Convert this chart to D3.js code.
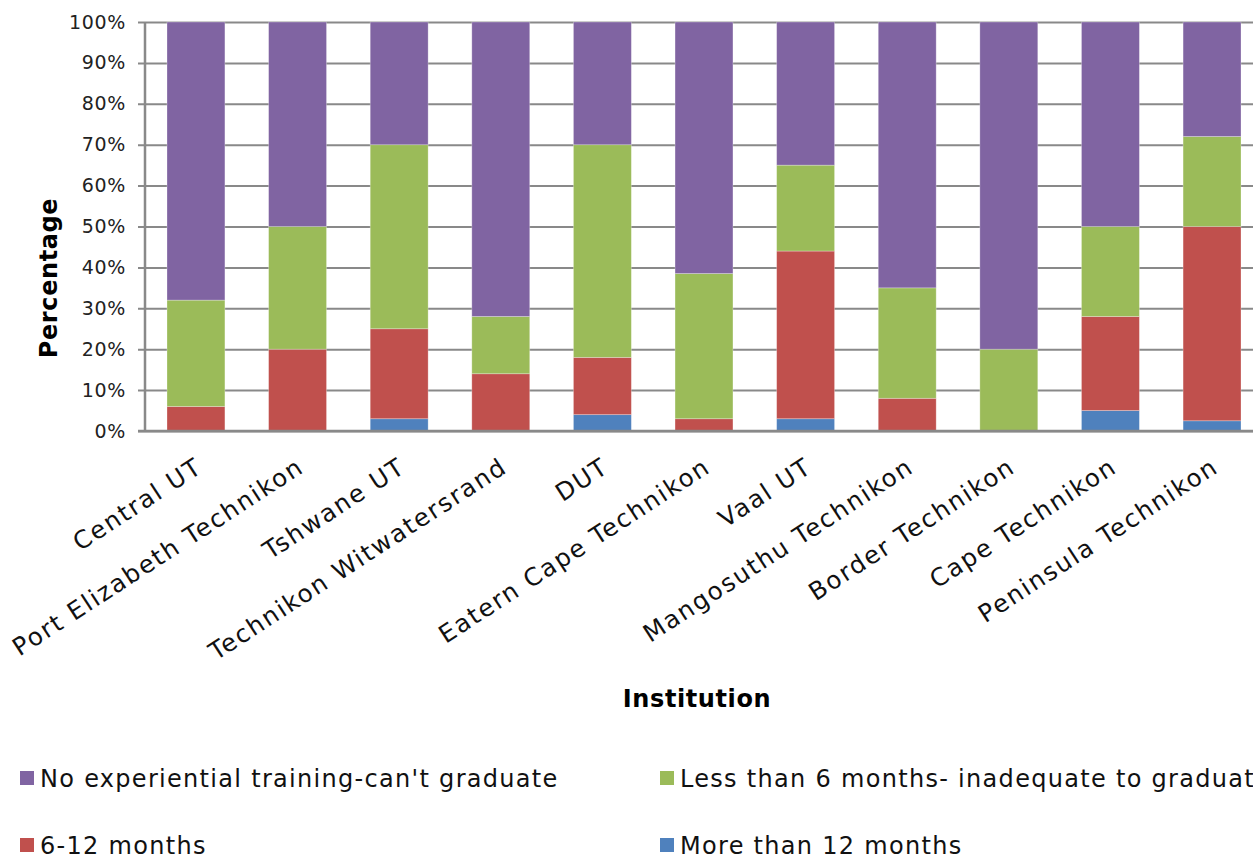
<!DOCTYPE html>
<html>
<head>
<meta charset="utf-8">
<script src="https://cdn.jsdelivr.net/npm/d3@7"></script>
<style>
  html, body { margin: 0; padding: 0; background: #fff; overflow: hidden; }
  svg { display: block; font-family: "DejaVu Sans", sans-serif; }
</style>
</head>
<body>
<svg id="chart" width="1253" height="858"></svg>
<script>
const institutions = ["Central UT", "Port Elizabeth Technikon", "Tshwane UT", "Technikon Witwatersrand", "DUT", "Eatern Cape Technikon", "Vaal UT", "Mangosuthu Technikon", "Border Technikon", "Cape Technikon", "Peninsula Technikon"];
const seriesNames = ["More than 12 months", "6-12 months", "Less than 6 months- inadequate to graduate", "No experiential training-can't graduate"];
const moreThan12 = [0, 0, 3, 0, 4, 0, 3, 0, 0, 5, 2.5];
const sixTo12 = [6, 20, 22, 14, 14, 3, 41, 8, 0, 23, 47.5];
const lessThan6 = [26, 30, 45, 14, 52, 35.5, 21, 27, 20, 22, 22];
const noTraining = [68, 50, 30, 72, 30, 61.5, 35, 65, 80, 50, 28];
const yTicks = [0, 10, 20, 30, 40, 50, 60, 70, 80, 90, 100];
const colors = ["#4F81BD", "#C0504D", "#9BBB59", "#8064A2"];

const rows = institutions.map((name, i) => ({
  name,
  s0: moreThan12[i], s1: sixTo12[i], s2: lessThan6[i], s3: noTraining[i]
}));
const keys = ["s0", "s1", "s2", "s3"];
const stacked = d3.stack().keys(keys)(rows);

const svg = d3.select("#chart");
const mLeft = 145, mRight = 1263, mTop = 22, mBottom = 431;

const x = d3.scaleBand().domain(institutions).range([mLeft, mRight]).paddingInner(0.43).paddingOuter(0.2165);
const y = d3.scaleLinear().domain([0, 100]).range([mBottom, mTop]);

// gridlines (with outward tick)
const yAxis = d3.axisLeft(y).tickValues(yTicks).tickSize(-(mRight - mLeft)).tickSizeOuter(0).tickPadding(14).tickFormat(d => d + "%");
const gy = svg.append("g").attr("transform", `translate(${mLeft},0)`).call(yAxis);
gy.select(".domain").remove();
gy.selectAll(".tick line").attr("stroke", "#898989").attr("stroke-width", 2).attr("x1", -7);
gy.selectAll(".tick text").attr("font-size", 19).attr("letter-spacing", 0.7).attr("fill", "#222").attr("x", -19).attr("font-family", "DejaVu Sans");

// bars
svg.append("g").selectAll("g").data(stacked).join("g")
  .attr("fill", (d, i) => colors[i])
  .selectAll("rect").data(d => d.map(v => ({v, name: v.data.name}))).join("rect")
  .attr("x", d => x(d.name))
  .attr("width", x.bandwidth())
  .attr("y", d => y(d.v[1]))
  .attr("height", d => Math.max(0, y(d.v[0]) - y(d.v[1])))
  .attr("stroke", "rgba(255,255,255,0.35)")
  .attr("stroke-width", 0.8);

// y axis line
svg.append("line").attr("x1", mLeft).attr("x2", mLeft).attr("y1", mTop).attr("y2", mBottom + 1)
  .attr("stroke", "#898989").attr("stroke-width", 2.5);
// x axis baseline
svg.append("line").attr("x1", mLeft - 7).attr("x2", mRight).attr("y1", mBottom).attr("y2", mBottom)
  .attr("stroke", "#898989").attr("stroke-width", 2.5);

// x labels
const xAxis = d3.axisBottom(x).tickSize(0).tickPadding(0);
const gx = svg.append("g").attr("transform", `translate(0,${mBottom})`).call(xAxis);
gx.select(".domain").remove();
gx.selectAll(".tick text")
  .attr("font-size", 24.5).attr("letter-spacing", 1.8).attr("fill", "#111").attr("font-family", "DejaVu Sans")
  .attr("text-anchor", "end")
  .attr("dy", 0).attr("y", 0)
  .attr("transform", "translate(8,40) rotate(-33)");

// axis titles
svg.append("text").attr("transform", "translate(57,278) rotate(-90)")
  .attr("text-anchor", "middle").attr("font-weight", "bold").attr("font-size", 24).attr("letter-spacing", 0.6).attr("fill", "#000")
  .text("Percentage");
svg.append("text").attr("x", 697).attr("y", 707)
  .attr("text-anchor", "middle").attr("font-weight", "bold").attr("font-size", 24).attr("letter-spacing", 0.6).attr("fill", "#000")
  .text("Institution");

// legend
const legendOrder = [3, 2, 1, 0];
const legendPos = [[20, 778], [660, 778], [20, 845], [660, 845]];
const lg = svg.append("g");
legendOrder.forEach((si, k) => {
  const [lx, ly] = legendPos[k];
  lg.append("rect").attr("x", lx).attr("y", ly - 7).attr("width", 14).attr("height", 14).attr("fill", colors[si]);
  lg.append("text").attr("x", lx + 20).attr("y", ly + 9).attr("font-size", 24).attr("letter-spacing", 1.3).attr("fill", "#111").text(seriesNames[si]);
});
</script>
</body>
</html>
